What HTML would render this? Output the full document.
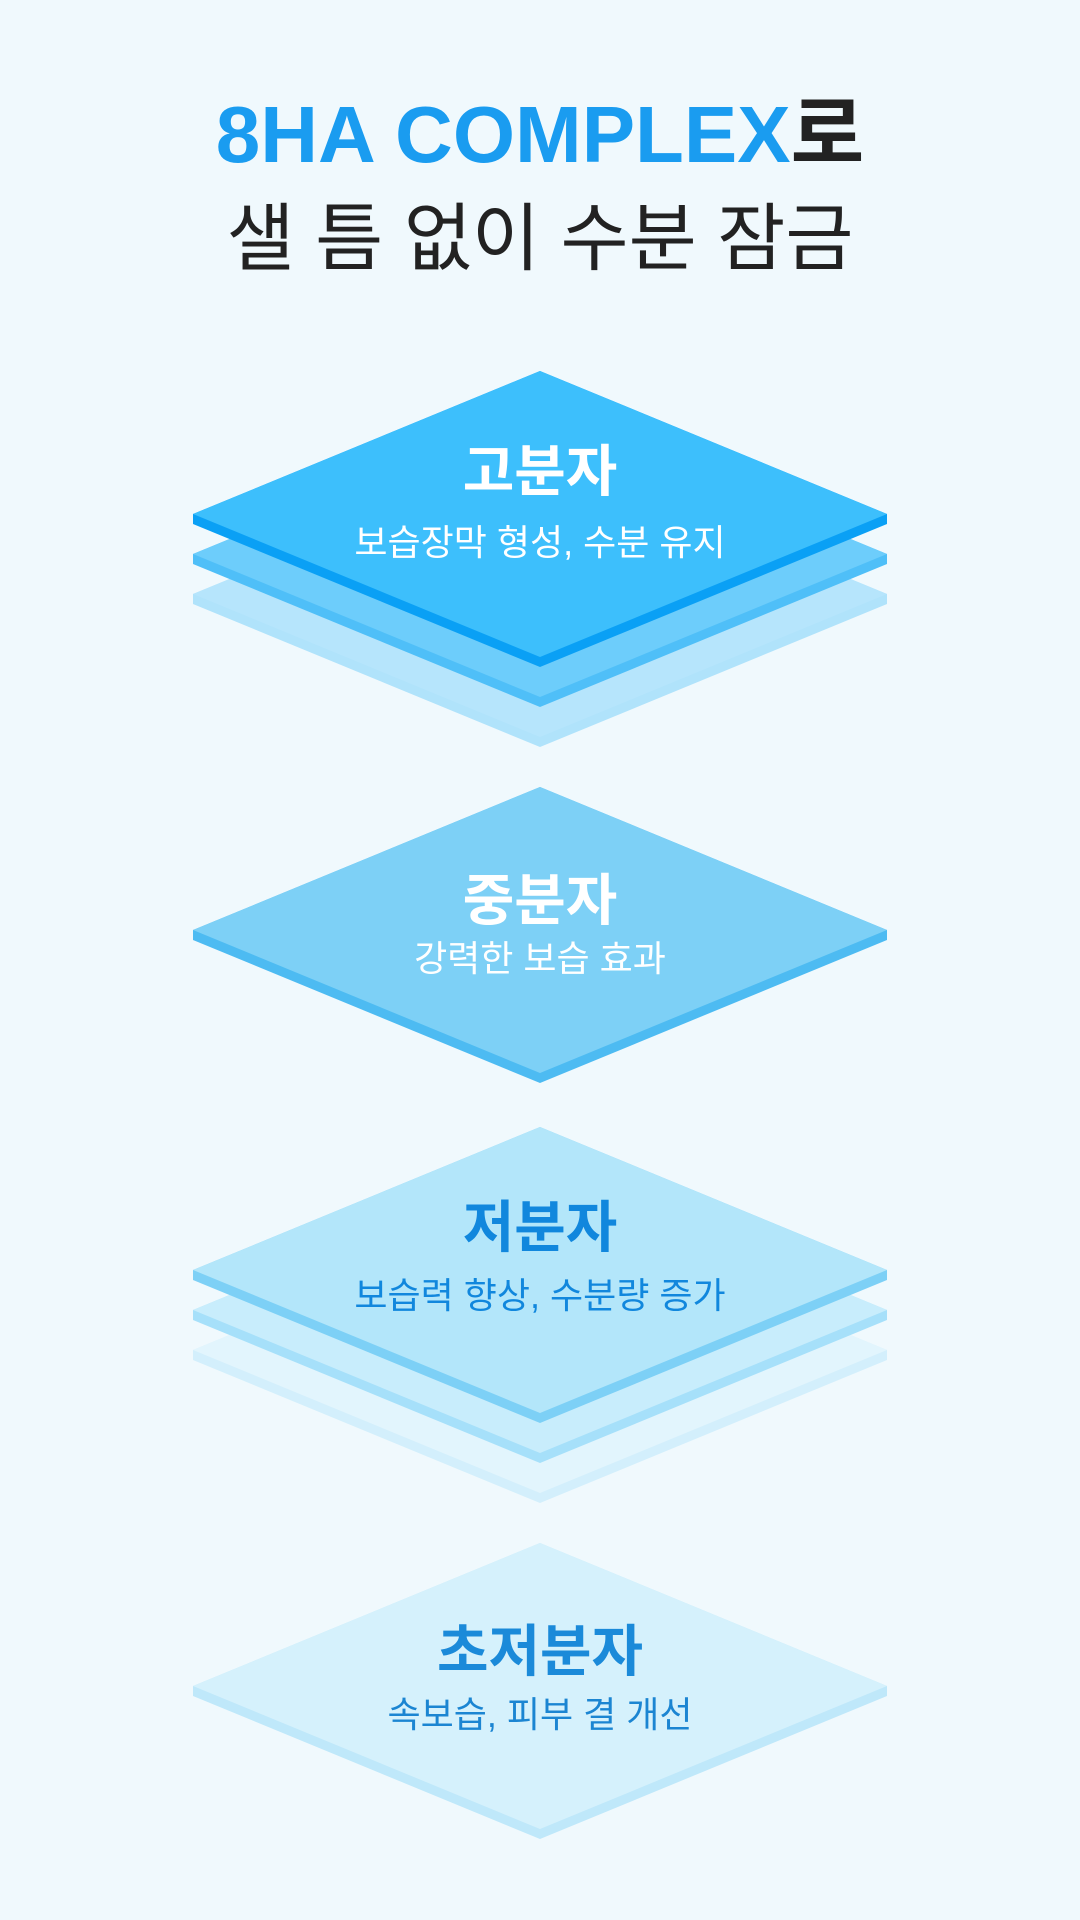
<!DOCTYPE html>
<html><head><meta charset="utf-8"><style>
html,body{margin:0;padding:0;background:#f0f9fd;}
svg{display:block}
text{font-family:"Liberation Sans","Noto Sans CJK KR",sans-serif;text-anchor:middle;}
</style></head><body>
<svg width="1080" height="1920" viewBox="0 0 1080 1920" xmlns="http://www.w3.org/2000/svg">
<rect width="1080" height="1920" fill="#f0f9fd"/>
<text x="540" y="162" font-size="80" font-weight="700" fill="#1a9cf0">8HA COMPLEX<tspan fill="#222">로</tspan></text>
<text x="540" y="264" font-size="74" font-weight="400" fill="#222">샐 틈 없이 수분 잠금</text>

<!-- diamond 1 layers -->
<polygon points="540,451 887,594 887,604 540,747 193,604 193,594" fill="#a8e0fb" opacity="0.9"/>
<polygon points="540,451 887,594 540,737 193,594" fill="#b6e5fc"/>
<polygon points="540,411 887,554 887,564 540,707 193,564 193,554" fill="#4fbff8"/>
<polygon points="540,411 887,554 540,697 193,554" fill="#6dcdfb"/>
<polygon points="540,371 887,514 887,524 540,667 193,524 193,514" fill="#0aa0f5"/>
<polygon points="540,371 887,514 540,657 193,514" fill="#3dbffc"/>
<text x="540" y="491" font-size="56" font-weight="700" fill="#fff">고분자</text>
<text x="540" y="555" font-size="36" fill="#fff">보습장막 형성, 수분 유지</text>

<!-- diamond 2 -->
<polygon points="540,787 887,930 887,940 540,1083 193,940 193,930" fill="#4dbbf2"/>
<polygon points="540,787 887,930 540,1073 193,930" fill="#7dd0f6"/>
<text x="540" y="920" font-size="56" font-weight="700" fill="#fff">중분자</text>
<text x="540" y="971" font-size="36" fill="#fff">강력한 보습 효과</text>

<!-- diamond 3 layers -->
<polygon points="540,1207 887,1350 887,1360 540,1503 193,1360 193,1350" fill="#d3effc"/>
<polygon points="540,1207 887,1350 540,1493 193,1350" fill="#e2f5fd"/>
<polygon points="540,1167 887,1310 887,1320 540,1463 193,1320 193,1310" fill="#a6e0fa"/>
<polygon points="540,1167 887,1310 540,1453 193,1310" fill="#c8edfc"/>
<polygon points="540,1127 887,1270 887,1280 540,1423 193,1280 193,1270" fill="#7dd0f6"/>
<polygon points="540,1127 887,1270 540,1413 193,1270" fill="#b3e6fa"/>
<text x="540" y="1247" font-size="56" font-weight="700" fill="#1187dd">저분자</text>
<text x="540" y="1308" font-size="36" fill="#1187dd">보습력 향상, 수분량 증가</text>

<!-- diamond 4 -->
<polygon points="540,1543 887,1686 887,1696 540,1839 193,1696 193,1686" fill="#bfe8fa"/>
<polygon points="540,1543 887,1686 540,1829 193,1686" fill="#d5f1fc"/>
<text x="540" y="1671" font-size="56" font-weight="700" fill="#1b8ad9">초저분자</text>
<text x="540" y="1727" font-size="36" fill="#1b85d2">속보습, 피부 결 개선</text>
</svg>
</body></html>
